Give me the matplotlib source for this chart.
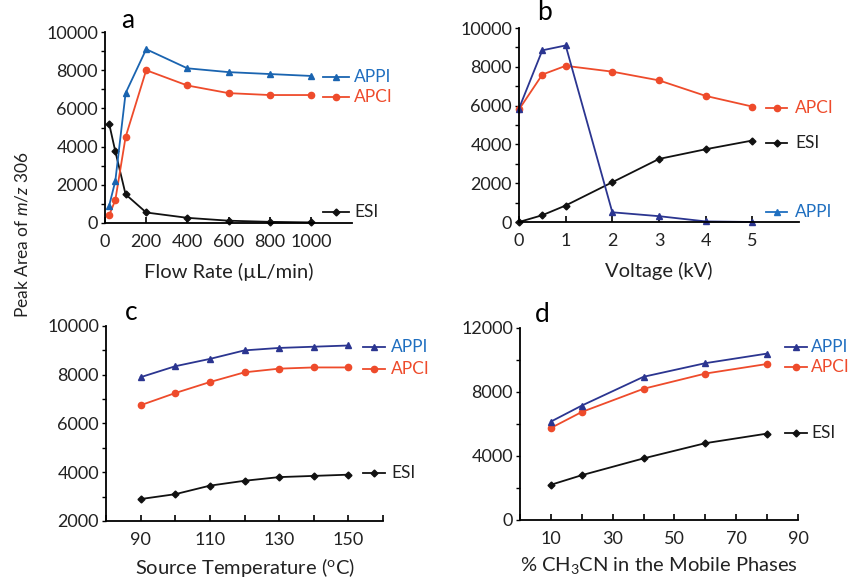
import matplotlib
matplotlib.use('Agg')

import matplotlib.pyplot as plt
from matplotlib.ticker import MultipleLocator

plt.rcParams['font.family'] = ['Lato', 'DejaVu Sans']
plt.rcParams['mathtext.fontset'] = 'custom'
plt.rcParams['mathtext.rm'] = 'Lato'
plt.rcParams['mathtext.it'] = 'Lato:italic'

# === Data ===
# a: flow rate
flow = [20, 50, 100, 200, 400, 600, 800, 1000]
flow_appi = [900, 2200, 6800, 9100, 8100, 7900, 7800, 7700]
flow_apci = [400, 1200, 4500, 8000, 7200, 6800, 6700, 6700]
flow_esi = [5200, 3750, 1500, 550, 270, 120, 60, 30]

# b: voltage
volt = [0, 0.5, 1, 2, 3, 4, 5]
volt_appi = [5850, 8850, 9100, 500, 300, 30, 0]
volt_apci = [5800, 7600, 8050, 7750, 7300, 6500, 5950]
volt_esi = [0, 350, 850, 2050, 3250, 3750, 4200]

# c: source temperature
temp = [90, 100, 110, 120, 130, 140, 150]
temp_appi = [7900, 8350, 8650, 9000, 9100, 9150, 9200]
temp_apci = [6750, 7250, 7700, 8100, 8250, 8300, 8300]
temp_esi = [2900, 3100, 3450, 3650, 3800, 3850, 3900]

# d: % acetonitrile
acn = [10, 20, 40, 60, 80]
acn_appi = [6150, 7150, 8950, 9800, 10400]
acn_apci = [5750, 6750, 8200, 9150, 9750]
acn_esi = [2200, 2800, 3850, 4800, 5400]

# === Styles ===
BLUE_A = '#1a64b0'
NAVY = '#2b3590'
BLUE_TXT = '#1f6fc0'
RED = '#ee4b2b'
BLACK = '#111111'
TXT = '#222222'
TICK_FS = 13
LAB_FS = 14.5
KEY_FS = 12.5

fig = plt.figure(figsize=(8.49, 5.81), dpi=100)


def make_axes(rect, xlim, ylim, xmajor, ymajor, yminor):
    ax = fig.add_axes(rect)
    ax.set_xlim(*xlim)
    ax.set_ylim(*ylim)
    for s in ['top', 'right']:
        ax.spines[s].set_visible(False)
    for s in ['left', 'bottom']:
        ax.spines[s].set_linewidth(1.3)
    ax.xaxis.set_major_locator(MultipleLocator(xmajor))
    ax.yaxis.set_major_locator(MultipleLocator(ymajor))
    ax.yaxis.set_minor_locator(MultipleLocator(yminor))
    ax.tick_params(axis='x', direction='in', length=4, width=1.2, labelsize=TICK_FS, pad=8,
                   labelcolor=TXT)
    ax.tick_params(axis='y', which='both', direction='out', length=3, width=1.0,
                   labelsize=TICK_FS, pad=2, labelcolor=TXT)
    return ax


def series(ax, x, y, color, marker, ms):
    ax.plot(x, y, color=color, lw=1.3, marker=marker, ms=ms, clip_on=False)


def key(ax, x0, x1, xt, y, color, marker, ms, label, tcolor):
    ax.plot([x0, x1], [y, y], color=color, lw=1.3, clip_on=False)
    ax.plot([(x0 + x1) / 2], [y], color=color, marker=marker, ms=ms, clip_on=False)
    ax.text(xt, y, label, color=tcolor, fontsize=KEY_FS, va='center', ha='left', clip_on=False)


# --- a ---
ax = make_axes([0.1237, 0.6162, 0.2909, 0.3287], (0, 1200), (0, 10000), 200, 2000, 1000)
ax.set_xticks([0, 200, 400, 600, 800, 1000])
series(ax, flow, flow_esi, BLACK, 'D', 3.5)
series(ax, flow, flow_apci, RED, 'o', 4.5)
series(ax, flow, flow_appi, BLUE_A, '^', 4.5)
key(ax, 1060, 1185, 1210, 7650, BLUE_A, '^', 4.5, 'APPI', BLUE_TXT)
key(ax, 1060, 1185, 1210, 6600, RED, 'o', 4.5, 'APCI', RED)
key(ax, 1060, 1185, 1210, 580, BLACK, 'D', 3.5, 'ESI', TXT)
ax.set_xlabel('Flow Rate (µL/min)', fontsize=LAB_FS, labelpad=9, color=TXT)
ax.text(0.09, 1.06, 'a', transform=ax.transAxes, fontsize=19, ha='center', va='center')

# --- b ---
ax = make_axes([0.6113, 0.6179, 0.3298, 0.3339], (0, 6), (0, 10000), 1, 2000, 1000)
ax.set_xticks([0, 1, 2, 3, 4, 5])
series(ax, volt, volt_esi, BLACK, 'D', 3.5)
series(ax, volt, volt_apci, RED, 'o', 4.5)
series(ax, volt, volt_appi, NAVY, '^', 4.5)
key(ax, 5.3, 5.75, 5.92, 5880, RED, 'o', 4.5, 'APCI', RED)
key(ax, 5.3, 5.75, 5.92, 4080, BLACK, 'D', 3.5, 'ESI', TXT)
key(ax, 5.3, 5.75, 5.92, 520, BLUE_TXT, '^', 4.5, 'APPI', BLUE_TXT)
ax.set_xlabel('Voltage (kV)', fontsize=LAB_FS, labelpad=9, color=TXT)
ax.text(0.09, 1.08, 'b', transform=ax.transAxes, fontsize=19, ha='center', va='center')

# --- c ---
ax = make_axes([0.1249, 0.1033, 0.3263, 0.3356], (80, 160), (2000, 10000), 10, 2000, 1000)
ax.set_xticks(range(80, 161, 10))
ax.set_xticklabels(['' if v % 20 == 0 else str(v) for v in range(80, 161, 10)])
series(ax, temp, temp_esi, BLACK, 'D', 3.5)
series(ax, temp, temp_apci, RED, 'o', 4.5)
series(ax, temp, temp_appi, NAVY, '^', 4.5)
key(ax, 154.2, 160.5, 162.3, 9140, NAVY, '^', 4.5, 'APPI', BLUE_TXT)
key(ax, 154.2, 160.5, 162.3, 8240, RED, 'o', 4.5, 'APCI', RED)
key(ax, 154.2, 160.5, 162.3, 3970, BLACK, 'D', 3.5, 'ESI', TXT)
ax.set_xlabel('Source Temperature ($^{\\mathrm{o}}$C)', fontsize=LAB_FS, labelpad=6, color=TXT)
ax.text(0.09, 1.07, 'c', transform=ax.transAxes, fontsize=19, ha='center', va='center')

# --- d ---
ax = make_axes([0.6125, 0.1050, 0.3274, 0.3305], (0, 90), (0, 12000), 10, 4000, 2000)
ax.set_xticks(range(0, 91, 10))
ax.set_xticklabels(['' if v % 20 == 0 else str(v) for v in range(0, 91, 10)])
series(ax, acn, acn_esi, BLACK, 'D', 3.5)
series(ax, acn, acn_apci, RED, 'o', 4.5)
series(ax, acn, acn_appi, NAVY, '^', 4.5)
key(ax, 85.7, 93, 94.3, 10810, NAVY, '^', 4.5, 'APPI', BLUE_TXT)
key(ax, 85.7, 93, 94.3, 9560, RED, 'o', 4.5, 'APCI', RED)
key(ax, 85.7, 93, 94.3, 5440, BLACK, 'D', 3.5, 'ESI', TXT)
ax.set_xlabel('% CH$_3$CN in the Mobile Phases', fontsize=LAB_FS, labelpad=6, color=TXT)
ax.text(0.08, 1.07, 'd', transform=ax.transAxes, fontsize=19, ha='center', va='center')

fig.text(22 / 849, 1 - 235 / 581, 'Peak Area of $\\it{m/z}$ 306', rotation=90,
         fontsize=12.5, ha='center', va='center', color=TXT)

fig.savefig('out.png', dpi=100)
